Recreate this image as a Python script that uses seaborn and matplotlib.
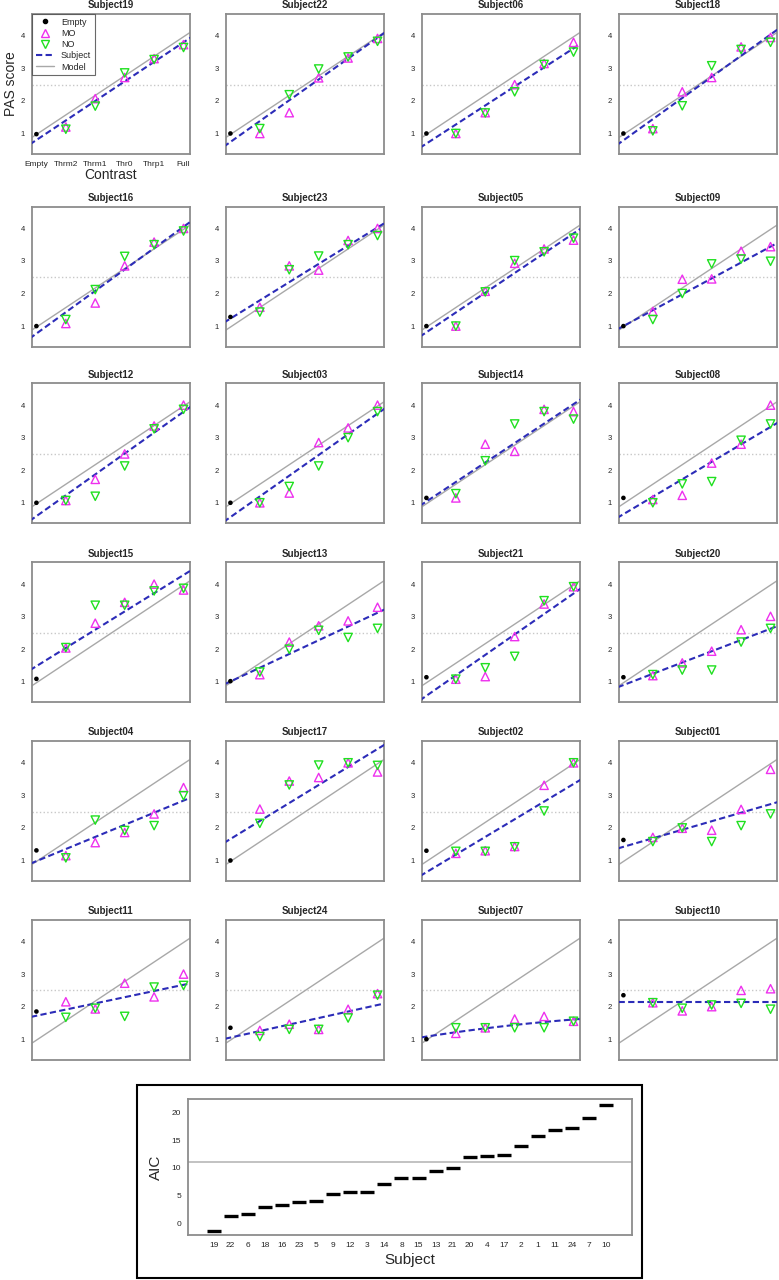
import matplotlib
matplotlib.use("Agg")
import matplotlib.pyplot as plt
from matplotlib.lines import Line2D
from matplotlib.patches import Rectangle
import seaborn as sns
import numpy as np

sns.set_style("white")
plt.rcParams['font.family'] = ['Liberation Sans', 'DejaVu Sans']

# -------------------- data --------------------
contrast_labels = ["Empty", "Thrm2", "Thrm1", "Thr0", "Thrp1", "Full"]
panel_subjects = ["19", "22", "06", "18",
                  "16", "23", "05", "09",
                  "12", "03", "14", "08",
                  "15", "13", "21", "20",
                  "04", "17", "02", "01",
                  "11", "24", "07", "10"]

empty_score = [0.98, 1.0, 1.0, 1.0,
               1.0, 1.28, 1.0, 1.0,
               1.0, 1.0, 1.15, 1.15,
               1.09, 1.02, 1.14, 1.14,
               1.31, 1.0, 1.3, 1.63,
               1.85, 1.35, 1.0, 2.35]

mo_score = [[1.2, 2.07, 2.72, 3.3, 3.73],
            [1.0, 1.64, 2.71, 3.32, 3.92],
            [1.0, 1.64, 2.5, 3.15, 3.8],
            [1.15, 2.28, 2.72, 3.66, 3.95],
            [1.08, 1.71, 2.85, 3.58, 4.0],
            [1.58, 2.85, 2.72, 3.63, 4.0],
            [1.0, 2.07, 2.93, 3.37, 3.64],
            [1.45, 2.44, 2.45, 3.3, 3.44],
            [1.07, 1.72, 2.5, 3.36, 4.0],
            [1.0, 1.3, 2.85, 3.3, 4.0],
            [1.15, 2.8, 2.58, 3.87, 3.8],
            [1.1, 1.23, 2.22, 2.8, 4.0],
            [2.04, 2.8, 3.44, 4.0, 3.82],
            [1.22, 2.22, 2.72, 2.87, 3.29],
            [1.08, 1.16, 2.39, 3.39, 3.92],
            [1.19, 1.58, 1.94, 2.6, 3.01],
            [1.15, 1.55, 1.86, 2.43, 3.24],
            [2.58, 3.44, 3.55, 4.0, 3.72],
            [1.22, 1.3, 1.43, 3.31, 4.0],
            [1.71, 1.99, 1.93, 2.57, 3.8],
            [2.15, 1.93, 2.72, 2.3, 3.0],
            [1.27, 1.46, 1.3, 1.92, 2.4],
            [1.18, 1.35, 1.62, 1.7, 1.55],
            [2.12, 1.87, 2.0, 2.5, 2.55]]

no_score = [[1.13, 1.84, 2.86, 3.27, 3.64],
            [1.15, 2.19, 2.98, 3.35, 3.83],
            [1.0, 1.63, 2.28, 3.12, 3.5],
            [1.08, 1.85, 3.08, 3.58, 3.8],
            [1.2, 2.12, 3.14, 3.5, 3.92],
            [1.43, 2.73, 3.15, 3.5, 3.78],
            [1.0, 2.05, 3.01, 3.28, 3.7],
            [1.2, 2.0, 2.91, 3.06, 2.99],
            [1.07, 1.2, 2.13, 3.27, 3.87],
            [1.0, 1.5, 2.13, 3.0, 3.8],
            [1.28, 2.29, 3.42, 3.8, 3.57],
            [1.0, 1.58, 1.65, 2.92, 3.42],
            [2.05, 3.35, 3.35, 3.79, 3.87],
            [1.3, 2.0, 2.58, 2.36, 2.64],
            [1.08, 1.43, 1.78, 3.49, 3.92],
            [1.22, 1.36, 1.36, 2.22, 2.64],
            [1.08, 2.24, 1.92, 2.07, 2.99],
            [2.14, 3.32, 3.93, 4.0, 3.92],
            [1.28, 1.28, 1.42, 2.52, 4.0],
            [1.58, 2.0, 1.58, 2.07, 2.43],
            [1.67, 1.95, 1.7, 2.6, 2.65],
            [1.08, 1.3, 1.3, 1.65, 2.35],
            [1.35, 1.35, 1.35, 1.35, 1.55],
            [2.12, 1.95, 2.05, 2.1, 1.92]]

# subject fit: intercept + slope*x + curve*x^2
subj_intercept = [0.80, 0.74, 0.69, 0.79, 0.77, 1.23, 0.81, 1.00,
                  0.59, 0.56, 1.04, 0.65, 1.48, 1.01, 0.57, 0.90,
                  0.98, 1.66, 0.64, 1.42, 1.72, 1.05, 1.08, 2.15]
subj_slope = [0.60, 0.64, 0.585, 0.65, 0.656, 0.56, 0.607, 0.488,
              0.641, 0.636, 0.598, 0.536, 0.56, 0.422, 0.628, 0.346,
              0.372, 0.553, 0.542, 0.262, 0.19, 0.20, 0.14, 0.0]
subj_curve = [0, 0, 0, 0, 0, 0, 0, 0,
              0, 0, 0, 0, 0, 0, 0, 0,
              0, 0, 0, 0, 0, 0, -0.007, 0]

model_intercept = 0.97
model_slope = 0.60
pas_cut = 2.5

aic_subjects = ["19", "22", "6", "18", "16", "23", "5", "9", "12", "3", "14", "8",
                "15", "13", "21", "20", "4", "17", "2", "1", "11", "24", "7", "10"]
aic_values = [-1.3, 1.4, 1.7, 3.0, 3.3, 3.8, 4.1, 5.3, 5.7, 5.7, 7.0, 8.1,
              8.2, 9.5, 10.0, 11.9, 12.2, 12.4, 13.9, 15.7, 16.9, 17.2, 18.9, 21.4]
aic_ref = 11.1

# -------------------- styles --------------------
W, H = 779, 1280
MO_COL = '#ee30ee'
NO_COL = '#20e020'
SUBJ_COL = '#2c2cb8'
MODEL_COL = '#a8a8a8'
FRAME_COL = '#8c8c8c'

fig = plt.figure(figsize=(W / 100, H / 100), dpi=100)


def px_axes(left, top, w, h):
    return fig.add_axes([left / W, 1 - (top + h) / H, w / W, h / H])


def style_frame(ax):
    for sp in ax.spines.values():
        sp.set_color(FRAME_COL)
        sp.set_linewidth(1.3)
    ax.tick_params(direction='out', length=3, width=0.8, color=FRAME_COL,
                   labelsize=5.5, pad=2)


col_left = [32, 226, 422, 619]
row_top = [14, 206.6, 383.3, 562.3, 741, 919.7]
xs = np.arange(1, 6)
grid = np.linspace(-0.5, 5.6, 60)

for i, subj in enumerate(panel_subjects):
    ax = px_axes(col_left[i % 4], row_top[i // 4], 158, 140)
    ax.axhline(pas_cut, color='#c8c8c8', ls=':', lw=1, zorder=1)
    sns.lineplot(x=grid, y=model_intercept + model_slope * grid,
                 color=MODEL_COL, lw=1, ax=ax, zorder=2)
    fit = subj_intercept[i] + subj_slope[i] * grid + subj_curve[i] * grid ** 2
    sns.lineplot(x=grid, y=fit, color=SUBJ_COL, lw=1.5, ls=(0, (3, 1.6)),
                 ax=ax, zorder=3)
    sns.scatterplot(x=xs, y=mo_score[i], marker='^', s=36, color=MO_COL,
                    facecolor='none', edgecolor=MO_COL, linewidth=1, ax=ax, zorder=4)
    sns.scatterplot(x=xs, y=no_score[i], marker='v', s=36, color=NO_COL,
                    facecolor='none', edgecolor=NO_COL, linewidth=1, ax=ax, zorder=4)
    sns.scatterplot(x=[0], y=[empty_score[i]], marker='o', s=11, color='black',
                    edgecolor='none', ax=ax, zorder=5)

    ax.set_xlim(-0.15, 5.22)
    ax.set_ylim(0.37, 4.67)
    ax.set_xticks(range(6))
    ax.set_yticks([1, 2, 3, 4])
    style_frame(ax)
    ax.set_title(f"Subject{subj}", fontsize=7, fontweight='bold', pad=4)
    if i == 0:
        ax.set_xticklabels(contrast_labels)
        ax.tick_params(axis='x', labelsize=6)
        ax.set_xlabel("Contrast", fontsize=10, labelpad=0)
        ax.set_ylabel("PAS score", fontsize=10, labelpad=2)
        handles = [
            Line2D([], [], marker='o', ls='none', color='black', markersize=3),
            Line2D([], [], marker='^', ls='none', mfc='none', mec=MO_COL, markersize=5.5),
            Line2D([], [], marker='v', ls='none', mfc='none', mec=NO_COL, markersize=5.5),
            Line2D([], [], color=SUBJ_COL, lw=1.5, ls=(0, (3, 1.6))),
            Line2D([], [], color=MODEL_COL, lw=1),
        ]
        leg = ax.legend(handles, ["Empty", "MO", "NO", "Subject", "Model"],
                        loc='upper left', fontsize=6.5, frameon=True, fancybox=False,
                        borderaxespad=0, handlelength=2.0, labelspacing=0.25,
                        borderpad=0.4, handletextpad=0.8)
        leg.get_frame().set_edgecolor('#444444')
        leg.get_frame().set_linewidth(0.8)
    else:
        ax.set_xticklabels([])
        ax.set_xlabel("")
        ax.set_ylabel("")

# -------------------- AIC panel --------------------
fig.patches.append(Rectangle((137 / W, 1 - 1278 / H), (642 - 137) / W, (1278 - 1085) / H,
                             transform=fig.transFigure, fill=False, ec='black', lw=1.5))
ax = px_axes(188, 1099, 444, 136)
ax.axhline(aic_ref, color='#b8b8b8', lw=1.2, zorder=1)
pos = np.arange(len(aic_values))
sns.scatterplot(x=pos, y=aic_values, marker='_', s=110, linewidth=2.4,
                color='black', ax=ax, zorder=3)
ax.set_xlim(-1.5, 24.5)
ax.set_ylim(-2.1, 22.4)
ax.set_xticks(pos)
ax.set_xticklabels(aic_subjects)
ax.set_yticks([0, 5, 10, 15, 20])
style_frame(ax)
ax.tick_params(labelsize=6)
ax.set_xlabel("Subject", fontsize=11, labelpad=3)
ax.set_ylabel("AIC", fontsize=11, labelpad=6)

fig.savefig("out.png", dpi=100)
